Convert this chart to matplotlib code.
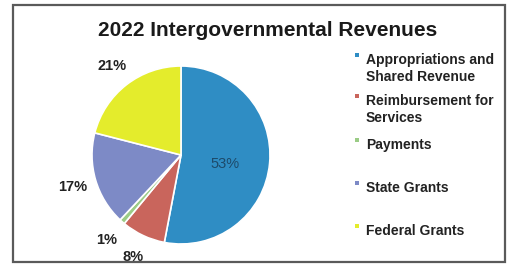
import numpy as np
import matplotlib.pyplot as plt
from matplotlib.patches import Rectangle

plt.rcParams['font.family'] = ['Liberation Sans', 'DejaVu Sans']

categories = ["Appropriations and\nShared Revenue", "Reimbursement for\nServices",
              "Payments", "State Grants", "Federal Grants"]
shares = [53, 8, 1, 17, 21]
colors = ["#2f8dc4", "#c9655c", "#9bcc86", "#7d8ac6", "#e4ec2c"]
pct_labels = ["%d%%" % v for v in shares]

fig = plt.figure(figsize=(5.08, 2.64), dpi=100)

# frame around the chart
fig.patches.append(Rectangle((13 / 508, 2 / 264), 492 / 508, 257 / 264,
                             transform=fig.transFigure, fill=False,
                             edgecolor="#5a5a5a", linewidth=1.6))

fig.text(268 / 508, 1 - 30 / 264, "2022 Intergovernmental Revenues",
         ha="center", va="center", fontsize=15, fontweight="bold", color="#1a1a1a")

ax = fig.add_axes([92 / 508, 1 - 244 / 264, 178 / 508, 178 / 264])
wedges, texts = ax.pie(shares, colors=colors, startangle=90, counterclock=False,
                       labels=pct_labels, labeldistance=1.27,
                       wedgeprops=dict(edgecolor="white", linewidth=1.2),
                       textprops=dict(fontsize=10.5, fontweight="bold", color="#222222"))
ax.set_xlim(-1, 1)
ax.set_ylim(-1, 1)
ax.set_aspect("equal")
for t in texts:
    t.set_ha("center")
    t.set_va("center")

# big slice label goes inside
w = wedges[0]
ang = np.deg2rad((w.theta1 + w.theta2) / 2)
texts[0].set_position((0.5 * np.cos(ang), 0.5 * np.sin(ang) - 0.05))
texts[0].set_color("#1d4a6a")
texts[0].set_fontweight("normal")

# legend drawn by hand (uneven spacing like the original)
legend_y = [60, 101, 145, 188, 231]
for cat, col, y in zip(categories, colors, legend_y):
    fig.patches.append(Rectangle((355 / 508, 1 - (y - 3) / 264), 4 / 508, 4 / 264,
                                 transform=fig.transFigure, facecolor=col,
                                 edgecolor="none"))
    fig.text(366 / 508, 1 - (y - 7) / 264, cat, ha="left", va="top",
             fontsize=10, fontweight="bold", color="#222222", linespacing=1.25)

fig.savefig("out.png", dpi=100, facecolor="white")
